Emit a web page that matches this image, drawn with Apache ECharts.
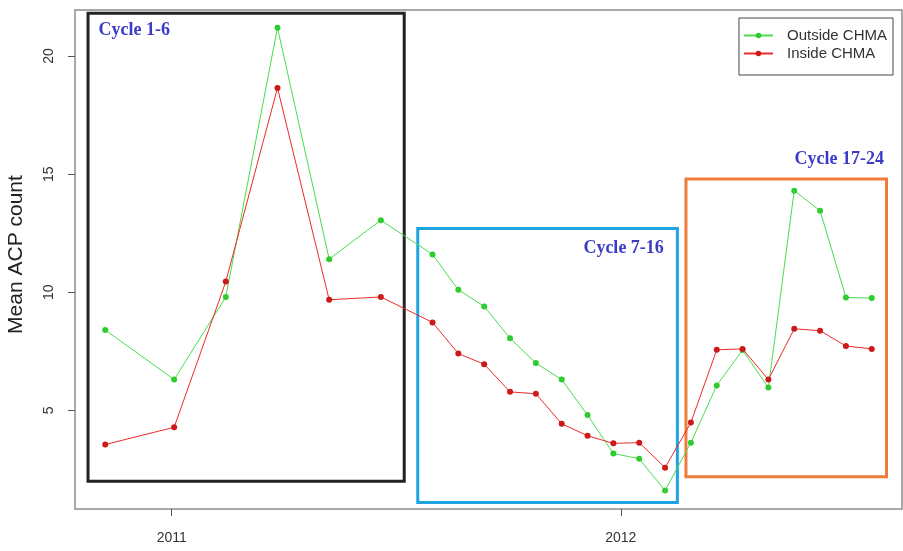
<!DOCTYPE html>
<html>
<head>
<meta charset="utf-8">
<script src="https://cdn.jsdelivr.net/npm/echarts@6/dist/echarts.min.js"></script>
<style>
  html, body { margin: 0; padding: 0; background: #fff; }
  #chart { width: 903px; height: 551px; }
</style>
</head>
<body>
<div id="chart"></div>
<script>
// Survey cycle dates (start of each cycle)
const cycleDates = [
  '2010-11-08', '2011-01-03', '2011-02-14', '2011-03-28', '2011-05-09', '2011-06-20',
  '2011-08-01', '2011-08-22', '2011-09-12', '2011-10-03', '2011-10-24', '2011-11-14',
  '2011-12-05', '2011-12-26', '2012-01-16', '2012-02-06', '2012-02-27', '2012-03-19',
  '2012-04-09', '2012-04-30', '2012-05-21', '2012-06-11', '2012-07-02', '2012-07-23'
];

// Mean ACP count per cycle
const outsideCHMA = [
  8.4, 6.3, 9.8, 21.2, 11.4, 13.05,
  11.6, 10.1, 9.4, 8.05, 7.0, 6.3,
  4.8, 3.17, 2.95, 1.6, 3.63, 6.05,
  7.55, 5.96, 14.3, 13.45, 9.78, 9.75
];
const insideCHMA = [
  3.55, 4.28, 10.45, 18.65, 9.68, 9.8,
  8.72, 7.4, 6.95, 5.78, 5.7, 4.43,
  3.92, 3.6, 3.63, 2.57, 4.48, 7.56,
  7.6, 6.3, 8.45, 8.37, 7.72, 7.6
];

// Year ticks on the time axis
const yearTicks = ['2011-01-01', '2012-01-01'];
const yTicks = [5, 10, 15, 20];

// Cycle groupings: [label, start date, end date, low, high]
const cycleGroups = [
  ['Cycle 1-6',   '2010-10-25', '2011-07-09', 1.99, 21.81],
  ['Cycle 7-16',  '2011-07-20', '2012-02-16', 1.09, 12.70],
  ['Cycle 17-24', '2012-02-23', '2012-08-04', 2.19, 14.79]
];

const t = s => new Date(s + 'T00:00:00Z').getTime();

const groupStyles = [
  { color: '#222222', label: { position: [12, 10], align: 'left' } },
  { color: '#1ea4e2', label: { position: ['100%', 12], align: 'right', offset: [-15, 0] } },
  { color: '#f07b3c', label: { position: ['100%', -27], align: 'right', offset: [-4, 0] } }
];

const areaData = cycleGroups.map((g, i) => [
  {
    name: g[0],
    coord: [t(g[1]), g[4]],
    itemStyle: { color: 'rgba(0,0,0,0)', borderColor: groupStyles[i].color, borderWidth: 3 },
    label: Object.assign({
      show: true,
      verticalAlign: 'top',
      color: '#3b3bc6',
      fontFamily: 'Liberation Serif',
      fontWeight: 'bold',
      fontSize: 18
    }, groupStyles[i].label)
  },
  { coord: [t(g[2]), g[3]] }
]);

const chart = echarts.init(document.getElementById('chart'), null, { renderer: 'canvas' });

chart.setOption({
  animation: false,
  backgroundColor: '#ffffff',
  textStyle: { fontFamily: 'Liberation Sans' },
  grid: {
    left: 75, top: 10, right: 1, bottom: 42,
    containLabel: false,
    outerBoundsMode: 'none',
    show: true, borderColor: '#8c8c8c', borderWidth: 1.5, backgroundColor: 'transparent'
  },
  legend: {
    orient: 'vertical',
    right: 10,
    top: 18,
    padding: [10, 6, 14, 4],
    itemGap: 3,
    itemWidth: 29,
    itemHeight: 7,
    borderColor: '#444',
    borderWidth: 1,
    textStyle: { fontSize: 15, color: '#333', fontFamily: 'Liberation Sans', padding: [0, 0, 0, 9] },
    data: ['Outside CHMA', 'Inside CHMA']
  },
  xAxis: {
    type: 'value',
    min: t('2010-10-14') + 10 * 3600e3,
    max: t('2012-08-16') + 14 * 3600e3,
    axisLine: { show: false },
    splitLine: { show: false },
    axisTick: {
      show: true, length: 7, customValues: yearTicks.map(t),
      lineStyle: { color: '#555' }
    },
    axisLabel: {
      customValues: yearTicks.map(t),
      margin: 22,
      fontSize: 14,
      color: '#333',
      formatter: v => String(new Date(v).getUTCFullYear())
    }
  },
  yAxis: {
    type: 'value',
    min: 0.82,
    max: 21.95,
    name: 'Mean ACP count',
    nameLocation: 'middle',
    nameGap: 48,
    nameRotate: 90,
    nameTextStyle: {
      fontSize: 21, color: '#222', fontFamily: 'Liberation Sans',
      padding: [0, 0, 0, 10]
    },
    axisLine: { show: false },
    splitLine: { show: false },
    axisTick: {
      show: true, length: 7, customValues: yTicks,
      lineStyle: { color: '#555' }
    },
    axisLabel: {
      customValues: yTicks,
      rotate: 90,
      margin: 19,
      fontSize: 14,
      color: '#333'
    }
  },
  series: [
    {
      name: 'Outside CHMA',
      type: 'line',
      data: cycleDates.map((d, i) => [t(d), outsideCHMA[i]]),
      symbol: 'circle',
      symbolSize: 6,
      lineStyle: { color: '#4cdc4c', width: 1 },
      itemStyle: { color: '#2fcc2f' },
      emphasis: { disabled: true },
      z: 3
    },
    {
      name: 'Inside CHMA',
      type: 'line',
      data: cycleDates.map((d, i) => [t(d), insideCHMA[i]]),
      symbol: 'circle',
      symbolSize: 6,
      lineStyle: { color: '#ee2a2a', width: 1 },
      itemStyle: { color: '#cc1a1a' },
      emphasis: { disabled: true },
      z: 4
    },
    {
      name: 'groups',
      type: 'line',
      data: [],
      silent: true,
      markArea: {
        silent: true,
        emphasis: { disabled: true },
        data: areaData
      }
    }
  ]
});
</script>
</body>
</html>
